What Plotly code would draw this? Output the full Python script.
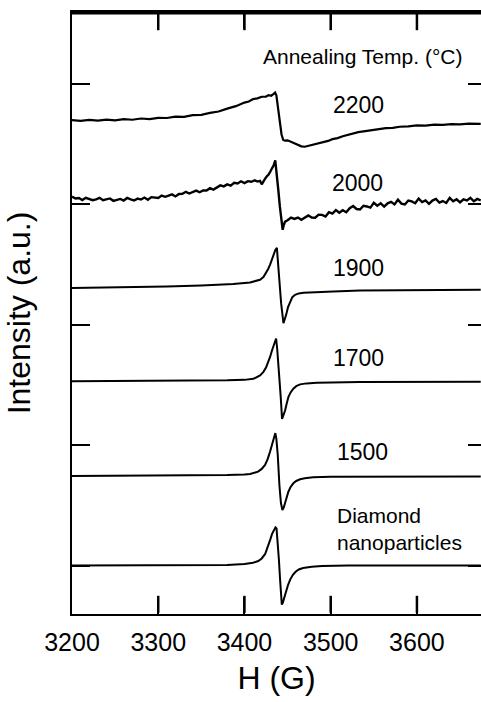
import plotly.graph_objects as go

# EPR spectra of diamond nanoparticles annealed at different temperatures.
# Each spectrum: magnetic field H (G) and first-derivative intensity (a.u.)
# relative to its own baseline; spectra are stacked with vertical offsets.

labels = ["Diamond<br>nanoparticles", "1500", "1700", "1900", "2000", "2200"]
offsets = [0.0, 89.2, 183.4, 276.3, 365.9, 443.3]

h_diamond = [3200, 3300, 3380, 3400, 3410, 3416, 3420, 3424, 3427, 3430, 3432, 3434,
             3436, 3437.2, 3438.5, 3440, 3441.3, 3442.5, 3443.3, 3444.5, 3446, 3448.3,
             3450.5, 3453, 3456, 3459, 3463, 3468, 3478, 3490, 3520, 3600, 3674]
i_diamond = [0, 0, 0.5, 1.5, 2.7, 4.5, 7, 11.5, 18, 26, 31.5, 35.5,
             38, 37, 25, 5, -14, -32, -39, -37, -32, -26,
             -19.5, -14, -9.5, -6.5, -4, -2.5, -1.2, -0.5, 0, 0, 0]

h_1500 = [3200, 3300, 3380, 3400, 3406.5, 3415.8, 3420, 3423.9, 3427, 3429.7, 3431.3,
          3432.8, 3434.5, 3435.8, 3437, 3438.6, 3440.5, 3442.3, 3444, 3445.5, 3447.1,
          3449, 3450.9, 3453.5, 3456.7, 3460, 3464.5, 3470, 3479.6, 3500, 3534, 3600, 3674]
i_1500 = [0, 0.3, 1, 1.5, 1.9, 4.3, 7, 11, 17, 24.3, 29.5,
          34.3, 40, 42.7, 37, 21, -9, -27, -34, -31.5, -27,
          -21, -15.7, -11, -7.3, -5, -3.3, -2.3, -1.3, -0.8, -0.7, -0.5, -0.5]

h_1700 = [3200, 3300, 3380, 3400, 3410.3, 3418.1, 3422, 3425, 3427.5, 3429.7, 3432,
          3434.5, 3436.7, 3438, 3440.1, 3442, 3443.6, 3445.2, 3447.1, 3449, 3450.9,
          3453.5, 3456.7, 3460, 3464.5, 3472, 3483.9, 3534, 3600, 3674]
i_1700 = [0, 0.3, 1, 1.5, 2.5, 6, 9.5, 13.7, 19, 24.3, 31,
          38.5, 42.7, 32, 11, -15, -37.3, -34, -29, -22, -15.7,
          -11, -7.3, -4.8, -3, -2, -1.3, -0.7, -0.5, -0.5]

h_1900 = [3200, 3250, 3310, 3350, 3387, 3406.5, 3418, 3422, 3425, 3427.5, 3429.7,
          3431.8, 3433.6, 3435.8, 3437.6, 3438.8, 3440.5, 3442.5, 3445.2, 3446.5, 3448.3,
          3450.5, 3452.9, 3455.5, 3458.7, 3463, 3468.4, 3476, 3502.9, 3534, 3600, 3674]
i_1900 = [0, 0.5, 1.6, 2.5, 4, 5.6, 8.3, 11, 15, 19, 23.3,
          28.5, 33.3, 38, 40, 25, 5, -15, -35, -32, -26.7,
          -19, -13.4, -9, -6.7, -5.3, -4.6, -4.5, -3.5, -2.4, -2, -1.7]

h_2000 = [3200, 3204, 3208, 3212, 3216, 3220, 3224, 3228, 3232, 3236, 3240, 3244,
          3248, 3252, 3256, 3260, 3264, 3268, 3272, 3276, 3280, 3284, 3288, 3292,
          3296, 3300, 3304, 3308, 3312, 3316, 3320, 3324, 3328, 3332, 3336, 3340,
          3344, 3348, 3352, 3356, 3360, 3364, 3368, 3372, 3376, 3380, 3384, 3388,
          3392, 3396, 3400, 3404, 3408, 3412,
          3415, 3418, 3420, 3422, 3424, 3426, 3428, 3430, 3432, 3434, 3435.7, 3437,
          3439.2, 3441, 3442.5, 3444.3, 3445.5, 3447,
          3450, 3454, 3458, 3462, 3466, 3470, 3474, 3478, 3482, 3486, 3490, 3494,
          3498, 3502, 3506, 3510, 3514, 3518, 3522, 3526, 3530, 3534, 3538, 3542,
          3546, 3550, 3554, 3558, 3562, 3566, 3570, 3574, 3578, 3582, 3586, 3590,
          3594, 3598, 3602, 3606, 3610, 3614, 3618, 3622, 3626, 3630, 3634, 3638,
          3642, 3646, 3650, 3654, 3658, 3662, 3666, 3670, 3674]
i_2000 = [1.5, -0.4, 0.1, -1.9, 0.3, -0.6, -2.0, -1.3, 0.3, -2.0, -0.8, -0.3,
          -2.7, -1.6, -0.8, -2.4, 0.2, -1.2, -2.3, -0.5, -1.4, 0.6, -1.6, 1.0,
          0.6, 0.1, 2.5, 1.3, 2.6, 3.7, 1.7, 4.2, 4.4, 6.3, 4.6, 5.9,
          7.5, 5.9, 7.6, 7.6, 9.9, 8.5, 10.9, 12.7, 11.7, 13.7, 12.5, 15.2,
          14.6, 16.8, 15.0, 16.9, 16.3, 17.8,
          16.5, 17.2, 13.8, 17.0, 19.5, 21.8, 23.5, 26.5, 29.5, 33.0, 37.5, 28.0,
          8.5, -8.0, -22.0, -31.5, -27.0, -23.5,
          -22.0, -19.3, -20.7, -19.3, -21.5, -19.3, -17.3, -19.3, -19.5, -16.4, -16.6, -18.3,
          -14.0, -15.4, -11.9, -14.6, -12.1, -14.0, -10.0, -7.9, -10.8, -11.3, -7.6, -8.3,
          -9.4, -4.6, -7.6, -5.2, -8.5, -5.2, -3.7, -6.2, -1.6, -5.4, -6.3, -2.4,
          -3.2, -5.1, -0.5, -3.9, -2.2, -5.6, -2.4, -0.8, -4.4, -2.9, -4.8, 0.2,
          -3.2, -1.1, -4.3, -1.2, -2.2, 0.3, -3.1, -0.8, -2.3]

h_2200 = [3200, 3210, 3220, 3230, 3240, 3250, 3260, 3270, 3280, 3290, 3300, 3310,
          3320, 3330, 3340, 3350, 3360, 3370, 3380, 3390, 3400, 3405, 3410, 3415,
          3420, 3425, 3428, 3431, 3433.5, 3435.5, 3437, 3439, 3441, 3443, 3445, 3447,
          3450, 3453, 3456, 3459, 3462, 3466, 3470, 3474, 3478, 3482, 3487, 3492,
          3497, 3502, 3508, 3514, 3520, 3526, 3532, 3540, 3548, 3556, 3564, 3572,
          3580, 3590, 3600, 3610, 3620, 3630, 3640, 3650, 3660, 3674]
i_2200 = [0.3, -0.4, 0.5, -0.2, 0.8, 0.1, 1.3, 0.7, 1.9, 1.4, 2.6, 2.4,
          3.7, 3.6, 5.2, 5.6, 7.5, 8.9, 11.8, 14.2, 17.8, 18.8, 21.2, 22.0,
          23.6, 23.8, 25.2, 24.6, 26.3, 27.8, 25.0, 12.0, -2.0, -14.0, -19.5, -20.2,
          -19.8, -21.0, -22.3, -22.8, -24.8, -25.8, -26.2, -25.3, -24.9, -23.6, -22.8, -21.2,
          -20.4, -18.6, -17.6, -15.7, -14.2, -12.8, -11.6, -10.6, -9.4, -8.9, -7.6, -7.4,
          -6.3, -6.0, -5.0, -5.1, -4.2, -4.4, -3.6, -3.9, -3.1, -3.4]

fields = [h_diamond, h_1500, h_1700, h_1900, h_2000, h_2200]
signals = [i_diamond, i_1500, i_1700, i_1900, i_2000, i_2200]
widths = [2, 2, 2, 2, 2.4, 2.2]

x_ticks = [3200, 3300, 3400, 3500, 3600]
y_ticks = [0, 120, 240, 360, 480]
x_range = [3200, 3674.3]
y_range = [-48.3, 551.3]

FONT = "Liberation Sans, Arial, sans-serif"

fig = go.Figure()
for name, h, s, off, w in zip(labels, fields, signals, offsets, widths):
    fig.add_trace(go.Scatter(
        x=h, y=[v + off for v in s], mode="lines", name=name,
        line=dict(color="black", width=w), showlegend=False,
    ))

# transparent copy of the bottom spectrum so the right-hand tick axis gets drawn
fig.add_trace(go.Scatter(
    x=h_diamond, y=i_diamond, mode="lines", yaxis="y2",
    line=dict(color="rgba(0,0,0,0)", width=0), hoverinfo="skip", showlegend=False,
))

# spectrum labels, placed just to the right of each signal
label_pos = [(3504.9, 36.0), (3536.3, 113.1), (3532.8, 206.8),
             (3532.8, 296.5), (3530.5, 381.2), (3532.8, 459.0)]
for text, (lx, ly) in zip(labels, label_pos):
    if "Diamond" in text:
        fig.add_annotation(x=lx, y=ly, text=text, showarrow=False, xanchor="left",
                           yanchor="middle", align="left",
                           font=dict(family=FONT, size=21, color="black"))
    else:
        fig.add_annotation(x=lx, y=ly, text=text, showarrow=False, xanchor="center",
                           yanchor="middle", font=dict(family=FONT, size=23, color="black"))

fig.add_annotation(x=3537.4, y=506.8, text="Annealing Temp. (°C)", showarrow=False,
                   xanchor="center", yanchor="middle",
                   font=dict(family=FONT, size=21, color="black"))

# frame: top border plus inward tick marks on the top and bottom edges
frame = dict(color="#000000", width=2.5)
tick_frac = 17 / 602
fig.add_shape(type="line", xref="x", yref="paper", x0=x_range[0], x1=x_range[1],
              y0=0.998, y1=0.998, line=frame, layer="above")
for t in x_ticks[1:]:
    fig.add_shape(type="line", xref="x", yref="paper", x0=t, x1=t,
                  y0=0.998, y1=0.998 - tick_frac, line=frame, layer="above")
    fig.add_shape(type="line", xref="x", yref="paper", x0=t, x1=t,
                  y0=0.002, y1=0.002 + tick_frac, line=frame, layer="above")

tick_style = dict(ticks="inside", tickwidth=2, tickcolor="black",
                  showgrid=False, zeroline=False)

fig.update_layout(
    width=481, height=702, autosize=False,
    margin=dict(l=72, r=0, t=12, b=88),
    paper_bgcolor="white", plot_bgcolor="white",
    font=dict(family=FONT, color="black"),
    xaxis=dict(
        range=x_range, tickvals=x_ticks, ticktext=[str(v) for v in x_ticks],
        ticklen=17, showline=True, linewidth=2, linecolor="black", mirror="ticks",
        ticklabelstandoff=5,
        tickfont=dict(family=FONT, size=25, color="black"),
        title=dict(text="H (G)", font=dict(family=FONT, size=32, color="black"), standoff=12),
        **tick_style,
    ),
    yaxis=dict(
        range=y_range, tickvals=y_ticks, showticklabels=False,
        ticklen=18, showline=True, linewidth=2, linecolor="black",
        title=dict(text="Intensity (a.u.)", font=dict(family=FONT, size=32, color="black"), standoff=30),
        **tick_style,
    ),
    yaxis2=dict(
        range=y_range, tickvals=y_ticks, showticklabels=False, overlaying="y", side="right",
        ticklen=13, showline=False,
        **tick_style,
    ),
)

fig.write_html("out.html", config={"displayModeBar": False})
